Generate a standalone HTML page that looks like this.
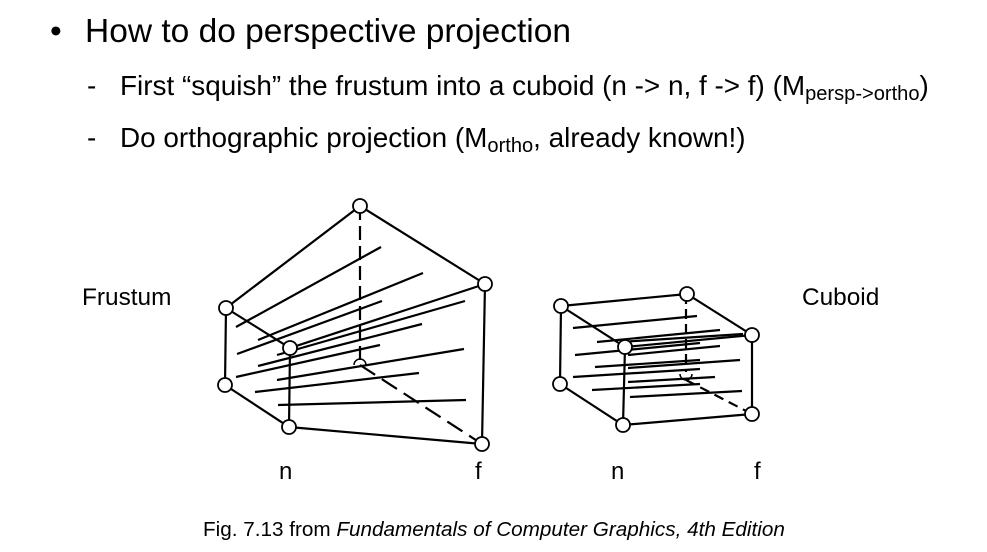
<!DOCTYPE html>
<html><head><style>
body{margin:0;width:987px;height:552px;background:#fff;position:relative;overflow:hidden;font-family:"Liberation Sans",Arial,sans-serif;color:#000}
.t{position:absolute;white-space:nowrap}
sub{font-size:0.72em;vertical-align:-0.25em}
</style></head><body>
<div class="t" style="left:50px;top:13px;font-size:33.5px">•</div>
<div class="t" style="left:85px;top:13px;font-size:33.5px">How to do perspective projection</div>
<div class="t" style="left:87px;top:70px;font-size:27.9px">-</div>
<div class="t" style="left:120px;top:70px;font-size:27.9px">First “squish” the frustum into a cuboid (n -&gt; n, f -&gt; f) (M<sub>persp-&gt;ortho</sub>)</div>
<div class="t" style="left:87px;top:122px;font-size:27.9px">-</div>
<div class="t" style="left:120px;top:122px;font-size:27.9px">Do orthographic projection (M<sub>ortho</sub>, already known!)</div>
<div class="t" style="left:82px;top:284px;font-size:24.4px">Frustum</div>
<div class="t" style="left:802px;top:284px;font-size:24.4px">Cuboid</div>
<div class="t" style="left:279px;top:458px;font-size:24px">n</div>
<div class="t" style="left:475px;top:458px;font-size:24px">f</div>
<div class="t" style="left:611px;top:458px;font-size:24px">n</div>
<div class="t" style="left:754px;top:458px;font-size:24px">f</div>
<div class="t" style="left:203px;top:518px;font-size:20.7px">Fig. 7.13 from <i>Fundamentals of Computer Graphics, 4th Edition</i></div>
<svg width="987" height="552" style="position:absolute;left:0;top:0" fill="none" stroke="#000" stroke-width="2.2">
<g>
<line x1="360" y1="206" x2="360" y2="360" stroke-dasharray="14,6"/>
<line x1="360" y1="365" x2="482" y2="444" stroke-dasharray="18,8"/>
<path d="M354 365 A6 6 0 0 1 366 365" stroke-width="1.5"/>
<line x1="236" y1="327" x2="381" y2="247"/>
<line x1="258" y1="340" x2="423" y2="273"/>
<line x1="237" y1="354" x2="382" y2="301"/>
<line x1="277" y1="355" x2="465" y2="301"/>
<line x1="258" y1="366" x2="422" y2="324"/>
<line x1="236" y1="377" x2="380" y2="345"/>
<line x1="277" y1="380" x2="464" y2="349"/>
<line x1="255" y1="392" x2="419" y2="373"/>
<line x1="278" y1="405" x2="466" y2="400"/>
<path d="M226 308 L360 206 L485 284 M226 308 L290 348 L485 284 M226 308 L225 385 M290 348 L289 427 M485 284 L482 444 M225 385 L289 427 L482 444"/>
<g fill="#fff" stroke-width="1.8">
<circle cx="360" cy="206" r="7"/><circle cx="485" cy="284" r="7"/><circle cx="226" cy="308" r="7"/><circle cx="290" cy="348" r="7"/>
<circle cx="225" cy="385" r="7"/><circle cx="289" cy="427" r="7"/><circle cx="482" cy="444" r="7"/>
</g>
</g>
<g>
<line x1="686" y1="294" x2="686" y2="372" stroke-dasharray="10,5"/>
<line x1="686" y1="380" x2="752" y2="414" stroke-dasharray="10,6"/>
<path d="M680 374 A6 6 0 0 0 692 374" stroke-width="1.5"/>
<line x1="573" y1="328" x2="697" y2="316"/>
<line x1="597" y1="342" x2="720" y2="330"/>
<line x1="620" y1="342" x2="743" y2="334"/>
<line x1="575" y1="355" x2="700" y2="343"/>
<line x1="628" y1="355" x2="720" y2="346"/>
<line x1="595" y1="367" x2="700" y2="360"/>
<line x1="628" y1="368" x2="740" y2="360"/>
<line x1="573" y1="377" x2="700" y2="369"/>
<line x1="628" y1="382" x2="715" y2="377"/>
<line x1="592" y1="390" x2="700" y2="384"/>
<line x1="630" y1="397" x2="742" y2="391"/>
<path d="M561 306 L687 294 L752 335 M561 306 L625 347 L752 335 M561 306 L560 384 M625 347 L623 425 M752 335 L752 414 M560 384 L623 425 L752 414"/>
<g fill="#fff" stroke-width="1.8">
<circle cx="687" cy="294" r="7"/><circle cx="752" cy="335" r="7"/><circle cx="561" cy="306" r="7"/><circle cx="625" cy="347" r="7"/>
<circle cx="560" cy="384" r="7"/><circle cx="623" cy="425" r="7"/><circle cx="752" cy="414" r="7"/>
</g>
</g>
</svg>
</body></html>
